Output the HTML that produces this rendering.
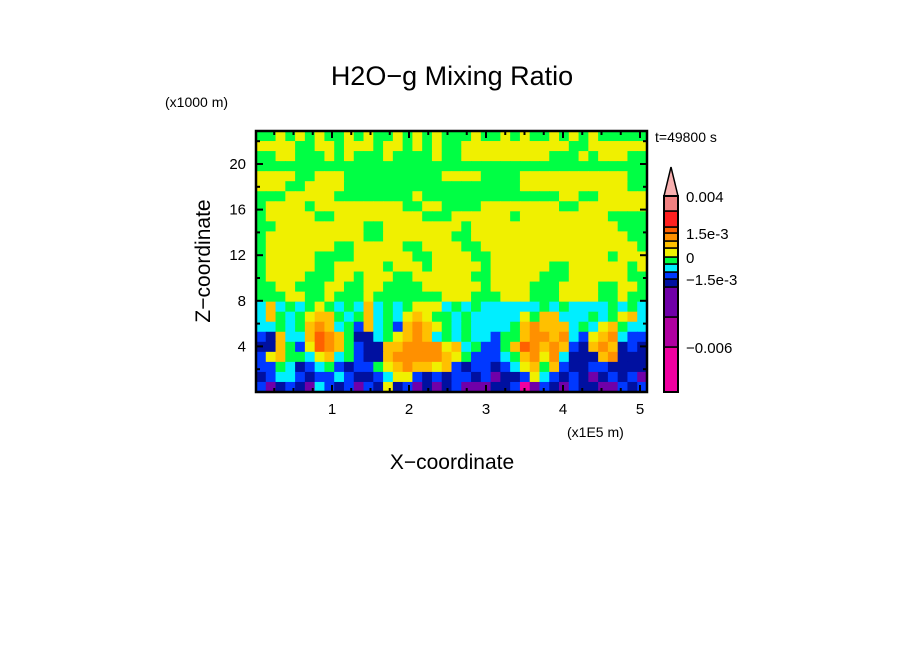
<!DOCTYPE html>
<html><head><meta charset="utf-8"><style>
body{margin:0;background:#fff;}
svg{display:block;font-family:"Liberation Sans",sans-serif;}
</style></head><body>
<svg id="c" width="904" height="654" viewBox="0 0 904 654">
<text x="452" y="85" font-size="27" text-anchor="middle">H2O−g Mixing Ratio</text>
<text x="165" y="107" font-size="14">(x1000 m)</text>
<text x="655" y="142" font-size="14">t=49800 s</text>
<text x="567" y="437" font-size="14">(x1E5 m)</text>
<text x="452" y="469" font-size="21" text-anchor="middle">X−coordinate</text>
<text transform="translate(210,261) rotate(-90)" font-size="21" text-anchor="middle">Z−coordinate</text>
<g id="field"></g>
<g id="axes"></g>
<g id="cbar"></g>
</svg>
<script>
const fieldRows = [
"ggygygyggygyggygygygggyggygyggygygygggg",
"yyyyggyygyyygyygygyggyyyyyyyyyyyggyyyyy",
"ggyygggygygggyggggyggyyyyyyyyygggygyyyg",
"ggggggggggggggggggggggggggggggggggggggg",
"yyyyggyyyggggggggggyyyyggggyyyyyyyyyyygg",
"yyyggyyyyggggggggggggggggggyyyyyyyyyyygg",
"gggyyyyyggggggggyggggggggggggggyyggyyyyy",
"gyyyygyyyyyyyyyggyyggggyyyyyyyyggyyyyyyy",
"gyyyyyggyyyyyyyyygggyyyyyygyyyyyyyyygggg",
"ggyyyyyyyyyggyyyyyyyygyyyyyyyyyyyyyyyggg",
"gyyyyyyyyyyggyyyyyyyggyyyyyyyyyyyyyyyygg",
"gyyyyyyyggyyyyyggyyyyggyyyyyyyyyyyyyyyyg",
"gyyyyyggggyyyyyyggyyyyggyyyyyyyyyyyygyyyg",
"gyyyyyggyyyyygyyygyyyyygyyyyyyggyyyyyygyg",
"gyyyygggyygyyyggyyyyyyggyyyyygggyyyyyygg",
"ggyygggyyggyyggggyyyyyygyyyygggyyyyggyyg",
"gggyyggygggygggggggyyygggyyygggyyyyggygg",
"cacgcgygcgcacgcgyyycgcgccccccgcgccccgcgc",
"cagcgyaagcgacgcyayggcgcccccygaacccgcgyac",
"ccgcgaoacgbacgbaoaygcgccccgaoaaacgcyagcc",
"bnaccaroagnncgyaoacgcgccbggaooaocbyaocbb",
"nnagbyroagbnnaaooooyacgbbgaroaoabnaoanbn",
"byaggcyacgbnnaoooooaygbbbcgaoyocnnnaonnn",
"bbgcnbcgbnbbgyaoaayabnbbnbcyagabnnbbnnnn",
"nbccbnbbcbnnbcyybnbnbbnbpnnbycbnbnpnbnbp",
"bpnbnpcbnbpbnynbpnpnbpppnnbmpbnpbnnppbnb"
];
const levelCodes = ["m","M","p","n","b","c","g","y","a","o","r","R","s"];
const levelColors = ["#f000a0","#b000a0","#7000a8","#0010a0","#0038ff","#00eeff","#00ff44","#f0f000","#ffc000","#ff9000","#ff6000","#ff2020","#f08080"];
const xTicks = [1,2,3,4,5];
const yTicks = [4,8,12,16,20];
const cbarBounds = [-0.009,-0.006,-0.003,-0.0015,-0.001,-0.0005,0,0.0005,0.001,0.0015,0.002,0.003,0.004];
const cbarLabels = ["0.004","1.5e-3","0","−1.5e-3","−0.006"];
const cbarLabelIdx = [13,10,7,4,1];

const NS="http://www.w3.org/2000/svg";
const L=256,R=647,T=131,B=392;
const xs=v=>255+v*77;
const ys=v=>392-v*11.4;
function mk(tag,attrs,parent){const e=document.createElementNS(NS,tag);for(const k in attrs)e.setAttribute(k,attrs[k]);parent.appendChild(e);return e;}
const colorOf={};levelCodes.forEach((c,i)=>colorOf[c]=levelColors[i]);
const field=document.getElementById('field');
const nC=40,nR=fieldRows.length,cw=(R-L)/nC,ch=(B-T)/nR;
fieldRows.forEach((row,ri)=>{
  for(let ci=0;ci<nC;ci++){
    const code=row[ci]||row[row.length-1];
    const r=mk('rect',{x:L+ci*cw,y:T+ri*ch,width:cw+0.6,height:ch+0.6,fill:colorOf[code]||"#00ff44"},field);
    
    
  }
});
const ax=document.getElementById('axes');
const fr=mk('rect',{x:L,y:T,width:R-L,height:B-T,fill:'none',stroke:'#000','stroke-width':2.5},ax);


for(let v=0.25;v<5.1;v+=0.25){const maj=Math.abs(v-Math.round(v))<1e-6;const x=xs(v),len=maj?7:4;
  mk('line',{x1:x,y1:B,x2:x,y2:B-len,stroke:'#000','stroke-width':2},ax);
  mk('line',{x1:x,y1:T,x2:x,y2:T+len,stroke:'#000','stroke-width':2},ax);}
for(let v=2;v<23;v+=2){const maj=v%4===0;const y=ys(v),len=maj?7:4;
  mk('line',{x1:L,y1:y,x2:L+len,y2:y,stroke:'#000','stroke-width':2},ax);
  mk('line',{x1:R,y1:y,x2:R-len,y2:y,stroke:'#000','stroke-width':2},ax);}
xTicks.forEach(v=>{const t=mk('text',{x:xs(v),y:414,'font-size':15,'text-anchor':'middle'},ax);t.textContent=v;
  
  });
yTicks.forEach(v=>{const t=mk('text',{x:246,y:ys(v)+5,'font-size':15,'text-anchor':'end'},ax);t.textContent=v;
  
  });
const cbY=[392,347,317,287,279,272,264,257,248,241,233,227,211,196];
const cb=document.getElementById('cbar');
for(let i=0;i<levelColors.length;i++){
  const r=mk('rect',{x:664,y:cbY[i+1],width:14,height:cbY[i]-cbY[i+1],fill:levelColors[i],stroke:'#000','stroke-width':1.5},cb);
  
  
}
const tri=mk('polygon',{points:'664,196 678,196 671,167',fill:'#f8b0b0',stroke:'#000','stroke-width':1.5},cb);


mk('rect',{x:664,y:196,width:14,height:196,fill:'none',stroke:'#000','stroke-width':2},cb);
cbarLabels.forEach((lab,i)=>{const y=cbY[cbarLabelIdx[i]];
  const t=mk('text',{x:686,y:y+6,'font-size':15},cb);t.textContent=lab;
  
  });
</script>
</body></html>
